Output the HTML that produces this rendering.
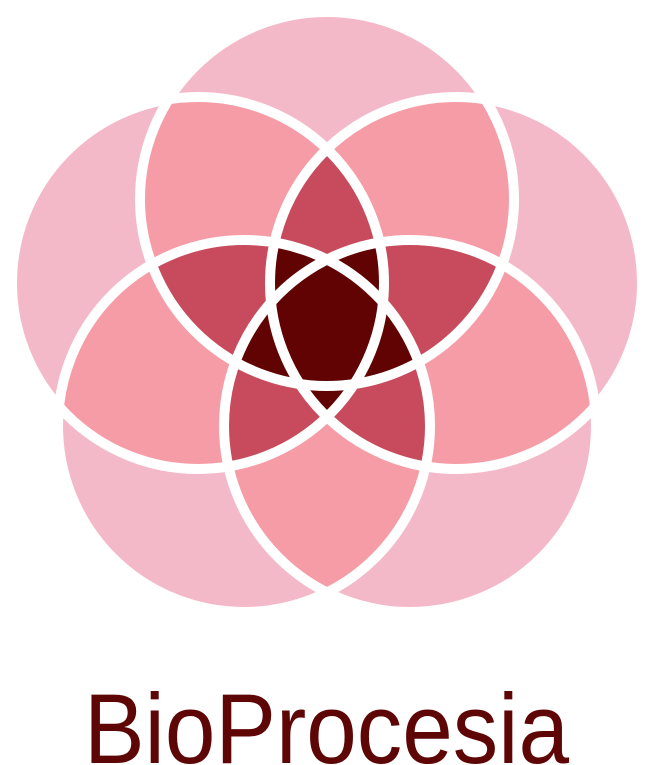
<!DOCTYPE html>
<html><head><meta charset="utf-8"><style>html,body{margin:0;padding:0;background:#fff;width:650px;height:765px;overflow:hidden}</style></head>
<body>
<svg width="650" height="765" viewBox="0 0 650 765" xmlns="http://www.w3.org/2000/svg">
<defs>
<circle id="k0" cx="327" cy="199" r="187"/>
<circle id="k1" cx="456" cy="283" r="186"/>
<circle id="k2" cx="410" cy="426" r="186"/>
<circle id="k3" cx="244" cy="426" r="186"/>
<circle id="k4" cx="198" cy="283" r="186"/>
<clipPath id="c0"><use href="#k0"/></clipPath>
<clipPath id="c1"><use href="#k1"/></clipPath>
<clipPath id="c2"><use href="#k2"/></clipPath>
<clipPath id="c3"><use href="#k3"/></clipPath>
<clipPath id="c4"><use href="#k4"/></clipPath>
</defs>
<g fill="#f4b9c8">
<use href="#k0"/><use href="#k1"/><use href="#k2"/><use href="#k3"/><use href="#k4"/>
</g>
<g fill="#f59ca7">
<g clip-path="url(#c0)"><use href="#k1"/><use href="#k2"/><use href="#k3"/><use href="#k4"/></g>
<g clip-path="url(#c1)"><use href="#k2"/><use href="#k3"/><use href="#k4"/></g>
<g clip-path="url(#c2)"><use href="#k3"/><use href="#k4"/></g>
<g clip-path="url(#c3)"><use href="#k4"/></g>
</g>
<g fill="#c84b5d">
<g clip-path="url(#c0)"><g clip-path="url(#c1)"><use href="#k2"/><use href="#k3"/><use href="#k4"/></g></g>
<g clip-path="url(#c0)"><g clip-path="url(#c2)"><use href="#k3"/><use href="#k4"/></g></g>
<g clip-path="url(#c0)"><g clip-path="url(#c3)"><use href="#k4"/></g></g>
<g clip-path="url(#c1)"><g clip-path="url(#c2)"><use href="#k3"/><use href="#k4"/></g></g>
<g clip-path="url(#c1)"><g clip-path="url(#c3)"><use href="#k4"/></g></g>
<g clip-path="url(#c2)"><g clip-path="url(#c3)"><use href="#k4"/></g></g>
</g>
<g fill="#620303">
<g clip-path="url(#c0)"><g clip-path="url(#c1)"><g clip-path="url(#c2)"><use href="#k3"/><use href="#k4"/></g></g></g>
<g clip-path="url(#c0)"><g clip-path="url(#c1)"><g clip-path="url(#c3)"><use href="#k4"/></g></g></g>
<g clip-path="url(#c0)"><g clip-path="url(#c2)"><g clip-path="url(#c3)"><use href="#k4"/></g></g></g>
<g clip-path="url(#c1)"><g clip-path="url(#c2)"><g clip-path="url(#c3)"><use href="#k4"/></g></g></g>
</g>
<g fill="none" stroke="#fff" stroke-width="10">
<use href="#k0"/><use href="#k1"/><use href="#k2"/><use href="#k3"/><use href="#k4"/>
</g>
<text x="84" y="763" font-family="Liberation Sans, sans-serif" font-size="99" fill="#5e0505" textLength="485" lengthAdjust="spacingAndGlyphs">BioProcesia</text>
</svg>
</body></html>
